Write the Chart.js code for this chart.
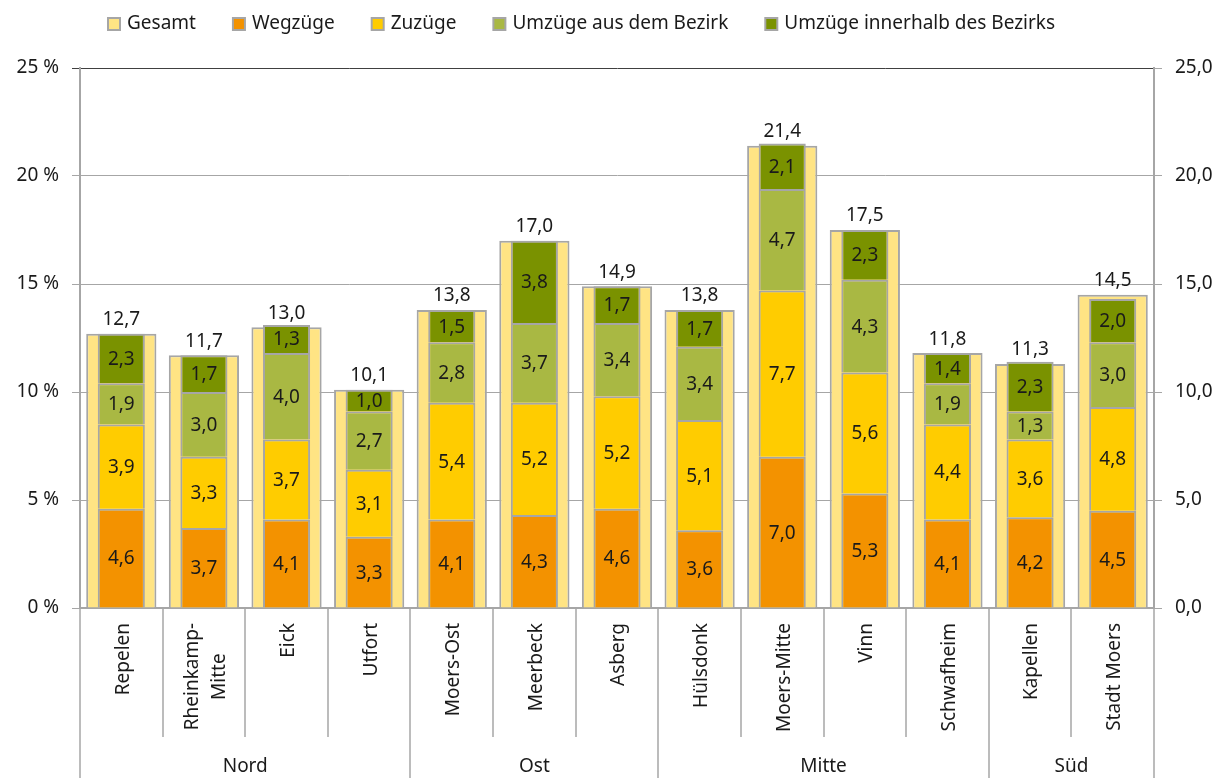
<!DOCTYPE html>
<html>
<head>
<meta charset="utf-8">
<script src="https://cdn.jsdelivr.net/npm/chart.js@4.4.0/dist/chart.umd.min.js"></script>
<style>
  html, body { margin: 0; padding: 0; background: #fff; }
  #wrap { width: 1229px; height: 778px; }
</style>
</head>
<body>
<div id="wrap"><canvas id="chart"></canvas></div>
<script>
// Daten
const stadtteile = ['Repelen', ['Rheinkamp-', 'Mitte'], 'Eick', 'Utfort', 'Moers-Ost', 'Meerbeck', 'Asberg',
    'Hülsdonk', 'Moers-Mitte', 'Vinn', 'Schwafheim', 'Kapellen', 'Stadt Moers'];
const gesamt = [12.7, 11.7, 13.0, 10.1, 13.8, 17.0, 14.9, 13.8, 21.4, 17.5, 11.8, 11.3, 14.5];
const wegzuege = [4.6, 3.7, 4.1, 3.3, 4.1, 4.3, 4.6, 3.6, 7.0, 5.3, 4.1, 4.2, 4.5];
const zuzuege = [3.9, 3.3, 3.7, 3.1, 5.4, 5.2, 5.2, 5.1, 7.7, 5.6, 4.4, 3.6, 4.8];
const umzuegeAus = [1.9, 3.0, 4.0, 2.7, 2.8, 3.7, 3.4, 3.4, 4.7, 4.3, 1.9, 1.3, 3.0];
const umzuegeInnerhalb = [2.3, 1.7, 1.3, 1.0, 1.5, 3.8, 1.7, 1.7, 2.1, 2.3, 1.4, 2.3, 2.0];
const bezirke = ['Nord', 'Ost', 'Mitte', 'Süd'];
const bezirkAnzahl = [4, 3, 4, 2];
const yTicks = [0, 5, 10, 15, 20, 25];

const FONT = '"Noto Sans", sans-serif';
const FS = 19;
const RAHMEN = '#A6A6A6';
const TEXT = '#1a1a1a';

const fmt = v => v.toFixed(1).replace('.', ',');

// Werte in die Balken schreiben, x-Achse und Legende zeichnen
const beschriftung = {
    id: 'beschriftung',
    afterDatasetsDraw(chart) {
        const ctx = chart.ctx;
        ctx.save();
        ctx.font = FS + 'px ' + FONT;
        ctx.fillStyle = TEXT;
        ctx.textAlign = 'center';
        ctx.textBaseline = 'middle';
        chart.data.datasets.forEach((ds, di) => {
            const meta = chart.getDatasetMeta(di);
            meta.data.forEach((bar, i) => {
                const v = ds.data[i];
                if (di === 0) {
                    ctx.fillText(fmt(v), bar.x, bar.y - 14);
                } else {
                    ctx.fillText(fmt(v), bar.x, (bar.y + bar.base) / 2 + 1);
                }
            });
        });
        ctx.restore();
    },
    afterDraw(chart) {
        const ctx = chart.ctx;
        const x = chart.scales.x;
        const area = chart.chartArea;
        const bottom = chart.height;
        const step = x.getPixelForValue(1) - x.getPixelForValue(0);
        ctx.save();
        // Trennlinien unter der Achse
        ctx.strokeStyle = RAHMEN;
        ctx.lineWidth = 1.5;
        const grenzen = [0];
        bezirkAnzahl.reduce((s, n) => { grenzen.push(s + n); return s + n; }, 0);
        for (let i = 0; i <= stadtteile.length; i++) {
            const px = Math.round(x.getPixelForValue(i) - step / 2);
            const lang = grenzen.includes(i);
            ctx.beginPath();
            ctx.moveTo(px, area.bottom);
            ctx.lineTo(px, lang ? bottom : area.bottom + 129);
            ctx.stroke();
        }
        // Stadtteil-Namen (gedreht)
        ctx.font = FS + 'px ' + FONT;
        ctx.fillStyle = TEXT;
        ctx.textBaseline = 'middle';
        ctx.textAlign = 'center';
        stadtteile.forEach((lab, i) => {
            const lines = Array.isArray(lab) ? lab : [lab];
            const maxW = Math.max(...lines.map(l => ctx.measureText(l).width));
            const cx = x.getPixelForValue(i) + 2;
            const cy = area.bottom + 15 + maxW / 2;
            ctx.save();
            ctx.translate(cx, cy);
            ctx.rotate(-Math.PI / 2);
            lines.forEach((l, k) => {
                const off = (k - (lines.length - 1) / 2) * 27;
                ctx.fillText(l, 0, off);
            });
            ctx.restore();
        });
        // Bezirke
        let start = 0;
        bezirke.forEach((b, k) => {
            const a = x.getPixelForValue(start) - step / 2;
            const e = x.getPixelForValue(start + bezirkAnzahl[k] - 1) + step / 2;
            ctx.fillText(b, (a + e) / 2, bottom - 11);
            start += bezirkAnzahl[k];
        });
        // Legende
        ctx.textAlign = 'left';
        let lx = 108;
        const ly = 24;
        chart.data.datasets.forEach(ds => {
            ctx.fillStyle = ds.backgroundColor;
            ctx.fillRect(lx, ly - 6, 12, 12);
            ctx.strokeStyle = RAHMEN;
            ctx.lineWidth = 2;
            ctx.strokeRect(lx, ly - 6, 12, 12);
            ctx.fillStyle = TEXT;
            ctx.fillText(ds.label, lx + 19, ly);
            lx += 19 + ctx.measureText(ds.label).width + 37;
        });
        ctx.restore();
    }
};

const teil = (label, data, color) => ({
    label: label,
    data: data,
    backgroundColor: color,
    borderColor: RAHMEN,
    borderWidth: 2,
    stack: 'teile',
    grouped: false,
    order: 0,
    barPercentage: 0.57,
    categoryPercentage: 1
});

new Chart(document.getElementById('chart'), {
    type: 'bar',
    data: {
        labels: stadtteile,
        datasets: [
            {
                label: 'Gesamt',
                data: gesamt,
                backgroundColor: '#FFE484',
                borderColor: RAHMEN,
                borderWidth: 2,
                stack: 'gesamt',
                grouped: false,
                order: 1,
                barPercentage: 0.85,
                categoryPercentage: 1
            },
            teil('Wegzüge', wegzuege, '#F39200'),
            teil('Zuzüge', zuzuege, '#FFCC00'),
            teil('Umzüge aus dem Bezirk', umzuegeAus, '#A9B843'),
            teil('Umzüge innerhalb des Bezirks', umzuegeInnerhalb, '#7A9200')
        ]
    },
    plugins: [beschriftung],
    options: {
        responsive: true,
        maintainAspectRatio: false,
        animation: false,
        layout: { padding: { top: 68, bottom: 40, left: 0, right: 0 } },
        plugins: {
            legend: { display: false },
            tooltip: { enabled: false }
        },
        scales: {
            x: {
                stacked: true,
                grid: { display: false },
                border: { color: RAHMEN, width: 2 },
                ticks: { display: false },
                afterFit(scale) { scale.height = 130; }
            },
            y: {
                stacked: true,
                position: 'left',
                min: 0,
                max: 25,
                afterBuildTicks(scale) { scale.ticks = yTicks.map(v => ({ value: v })); },
                ticks: {
                    callback: v => v + ' %',
                    font: { family: FONT, size: FS },
                    color: TEXT,
                    padding: 13
                },
                grid: {
                    color: ctx => ctx.tick && ctx.tick.value === 25 ? '#404040' : RAHMEN,
                    tickLength: 8,
                    lineWidth: 1
                },
                border: { color: RAHMEN, width: 2 },
                afterFit(scale) { scale.width = 80; }
            },
            y2: {
                position: 'right',
                min: 0,
                max: 25,
                afterBuildTicks(scale) { scale.ticks = yTicks.map(v => ({ value: v })); },
                ticks: {
                    callback: v => fmt(v),
                    font: { family: FONT, size: FS },
                    color: TEXT,
                    padding: 13
                },
                grid: { drawOnChartArea: false, tickLength: 8, color: RAHMEN },
                border: { color: RAHMEN, width: 2 },
                afterFit(scale) { scale.width = 75; }
            }
        }
    }
});
</script>
</body>
</html>
